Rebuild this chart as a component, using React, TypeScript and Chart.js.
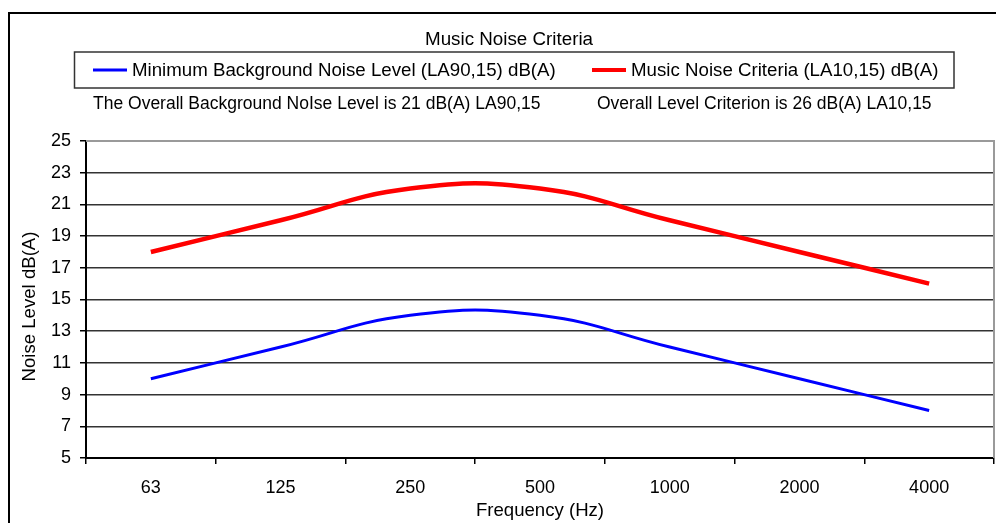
import React, { useEffect, useRef } from "react";
import { Chart, registerables } from "chart.js";

Chart.register(...registerables);

const categories = ["63", "125", "250", "500", "1000", "2000", "4000"];
const backgroundNoise = [10, 12, 14, 14, 12, 10, 8];
const musicCriteria = [18, 20, 22, 22, 20, 18, 16];
const yTicks = { min: 5, max: 25, step: 2 };

const chartTitle = "Music Noise Criteria";
const seriesNames = [
  "Minimum Background Noise Level (LA90,15) dB(A)",
  "Music Noise Criteria (LA10,15) dB(A)",
];
const noteLeft = "The Overall Background NoIse Level is 21 dB(A) LA90,15";
const noteRight = "Overall Level Criterion is 26 dB(A) LA10,15";
const xTitle = "Frequency (Hz)";
const yTitle = "Noise Level dB(A)";

const FONT = '"Liberation Sans", Arial, sans-serif';

const decorPlugin = {
  id: "decor",
  afterDraw(chart: any) {
    const ctx = chart.ctx as CanvasRenderingContext2D;
    const ca = chart.chartArea;
    ctx.save();
    // outer border
    ctx.strokeStyle = "#000";
    ctx.lineWidth = 2;
    ctx.beginPath();
    ctx.moveTo(9, 600);
    ctx.lineTo(9, 13);
    ctx.lineTo(1100, 13);
    ctx.stroke();

    // plot area top/right border
    ctx.strokeStyle = "#9a9a9a";
    ctx.lineWidth = 2;
    ctx.beginPath();
    ctx.moveTo(ca.left, ca.top);
    ctx.lineTo(ca.right, ca.top);
    ctx.lineTo(ca.right, ca.bottom);
    ctx.stroke();

    ctx.fillStyle = "#000";
    // title
    ctx.font = `18.8px ${FONT}`;
    ctx.textAlign = "center";
    ctx.textBaseline = "middle";
    ctx.fillText(chartTitle, 509, 40);

    // legend box
    ctx.strokeStyle = "#333";
    ctx.lineWidth = 1.5;
    ctx.strokeRect(74.5, 52, 879.5, 36);
    ctx.font = `18.7px ${FONT}`;
    ctx.textAlign = "left";
    const items = [
      { x: 93, color: "#0000ff", w: 3, label: seriesNames[0] },
      { x: 592, color: "#ff0000", w: 4, label: seriesNames[1] },
    ];
    for (const it of items) {
      ctx.strokeStyle = it.color;
      ctx.lineWidth = it.w;
      ctx.beginPath();
      ctx.moveTo(it.x, 70);
      ctx.lineTo(it.x + 34, 70);
      ctx.stroke();
      ctx.fillText(it.label, it.x + 39, 70.5);
    }

    // notes
    ctx.font = `17.5px ${FONT}`;
    ctx.fillText(noteLeft, 93, 104.5);
    ctx.fillText(noteRight, 597, 104.5);

    // axis titles
    ctx.font = `18.6px ${FONT}`;
    ctx.textAlign = "center";
    ctx.fillText(xTitle, (ca.left + ca.right) / 2, 510.5);
    ctx.save();
    ctx.translate(30, (ca.top + ca.bottom) / 2 + 7);
    ctx.rotate(-Math.PI / 2);
    ctx.fillText(yTitle, 0, 0);
    ctx.restore();

    ctx.restore();
  },
};

export default function App() {
  const ref = useRef<HTMLCanvasElement | null>(null);
  useEffect(() => {
    if (!ref.current) return;
    const chart = new Chart(ref.current, {
      type: "line",
      data: {
        labels: categories,
        datasets: [
          {
            label: seriesNames[0],
            data: backgroundNoise,
            borderColor: "#0000ff",
            borderWidth: 3,
            pointRadius: 0,
            tension: 0.45,
            fill: false,
          },
          {
            label: seriesNames[1],
            data: musicCriteria,
            borderColor: "#ff0000",
            borderWidth: 4.5,
            pointRadius: 0,
            tension: 0.45,
            fill: false,
          },
        ],
      },
      options: {
        responsive: false,
        animation: false,
        layout: { padding: { left: 0, top: 141, right: 2, bottom: 0 } },
        plugins: {
          legend: { display: false },
          title: { display: false },
          tooltip: { enabled: false },
        },
        scales: {
          x: {
            type: "category",
            offset: true,
            afterFit: (s: any) => {
              s.height = 65;
            },
            grid: {
              offset: true,
              drawOnChartArea: false,
              drawTicks: true,
              tickLength: 6,
              color: "#000",
              lineWidth: 1.5,
            },
            border: { color: "#000", width: 2 },
            ticks: {
              color: "#000",
              font: { family: FONT, size: 18 },
              padding: 13,
              maxRotation: 0,
            },
          },
          y: {
            min: yTicks.min,
            max: yTicks.max,
            afterFit: (s: any) => {
              s.width = 86;
            },
            ticks: {
              stepSize: yTicks.step,
              color: "#000",
              font: { family: FONT, size: 18 },
              padding: 9,
            },
            grid: {
              color: (c: any) =>
                c.tick && c.tick.value === yTicks.max ? "rgba(0,0,0,0)" : "#333",
              tickColor: "#000",
              lineWidth: 1.5,
              tickLength: 6,
            },
            border: { color: "#000", width: 2 },
          },
        },
      },
      plugins: [decorPlugin],
    });
    return () => chart.destroy();
  }, []);
  return (
    <div style={{ position: "absolute", left: 0, top: 0, width: 996, height: 523, background: "#fff" }}>
      <canvas ref={ref} width={996} height={523} style={{ width: 996, height: 523, display: "block" }} />
    </div>
  );
}
